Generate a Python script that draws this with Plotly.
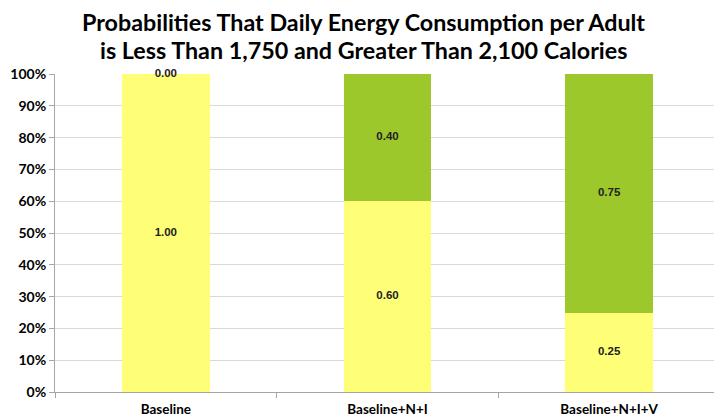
import plotly.graph_objects as go

categories = ["Baseline", "Baseline+N+I", "Baseline+N+I+V"]
less_than = [1.00, 0.60, 0.25]
greater_than = [0.00, 0.40, 0.75]
title_lines = ["Probabilities That Daily Energy Consumption per Adult",
               "is Less Than 1,750 and Greater Than 2,100 Calories"]

yellow = "#FFFF77"
green = "#9DC82C"
font_lbl = "Lato"

# page body has an 8px margin, so the figure is sized to fill the rest of the window
W, H = 714, 411
L, R, T, B = 37, 2, 66, 27
plot_h = H - T - B
plot_w = W - L - R

fig = go.Figure()
fig.add_trace(go.Bar(x=categories, y=less_than, marker=dict(color=yellow, line=dict(width=0)),
                     width=0.395, name="< 1,750", hoverinfo="y"))
fig.add_trace(go.Bar(x=categories, y=greater_than, marker=dict(color=green, line=dict(width=0)),
                     width=0.395, name="> 2,100", hoverinfo="y"))

mid_low = [v / 2 for v in less_than]
mid_high = [l + g / 2 for l, g in zip(less_than, greater_than)]
lblfont = dict(family="Liberation Sans", size=11.5, color="#222222", weight="bold")
fig.add_trace(go.Scatter(x=categories, y=mid_low, mode="text",
                         text=[f"{v:.2f}" for v in less_than],
                         textfont=lblfont, hoverinfo="skip", cliponaxis=False))
fig.add_trace(go.Scatter(x=categories, y=mid_high, mode="text",
                         text=[f"{v:.2f}" for v in greater_than],
                         textfont=lblfont, hoverinfo="skip", cliponaxis=False))

title_y_px = [14, 42]
title_x = (350 - L) / plot_w
for line, ypx in zip(title_lines, title_y_px):
    fig.add_annotation(text=line, xref="paper", yref="paper",
                       x=title_x, y=1 + (T - ypx) / plot_h,
                       xanchor="center", yanchor="middle", showarrow=False,
                       font=dict(family=font_lbl, size=23.3, color="black", weight="bold"))

fig.update_layout(
    width=W, height=H,
    barmode="stack",
    showlegend=False,
    plot_bgcolor="white", paper_bgcolor="white",
    margin=dict(l=L, r=R, t=T, b=B),
)
fig.update_xaxes(showline=True, linecolor="#A6A6A6", linewidth=1,
                 ticks="outside", tickcolor="#A6A6A6", ticklen=5,
                 tickson="boundaries", ticklabelstandoff=5,
                 tickfont=dict(family=font_lbl, size=13.5, color="black", weight="bold"),
                 showgrid=False, range=[-0.5, 2.5])
fig.update_yaxes(range=[0, 1], dtick=0.1, tickformat=".0%",
                 showline=True, linecolor="#A6A6A6", linewidth=1,
                 ticks="outside", tickcolor="#A6A6A6", ticklen=5,
                 showgrid=True, gridcolor="#D9D9D9", gridwidth=1,
                 zeroline=False,
                 tickfont=dict(family=font_lbl, size=14, color="black", weight="bold"))

fig.write_html("out.html")
